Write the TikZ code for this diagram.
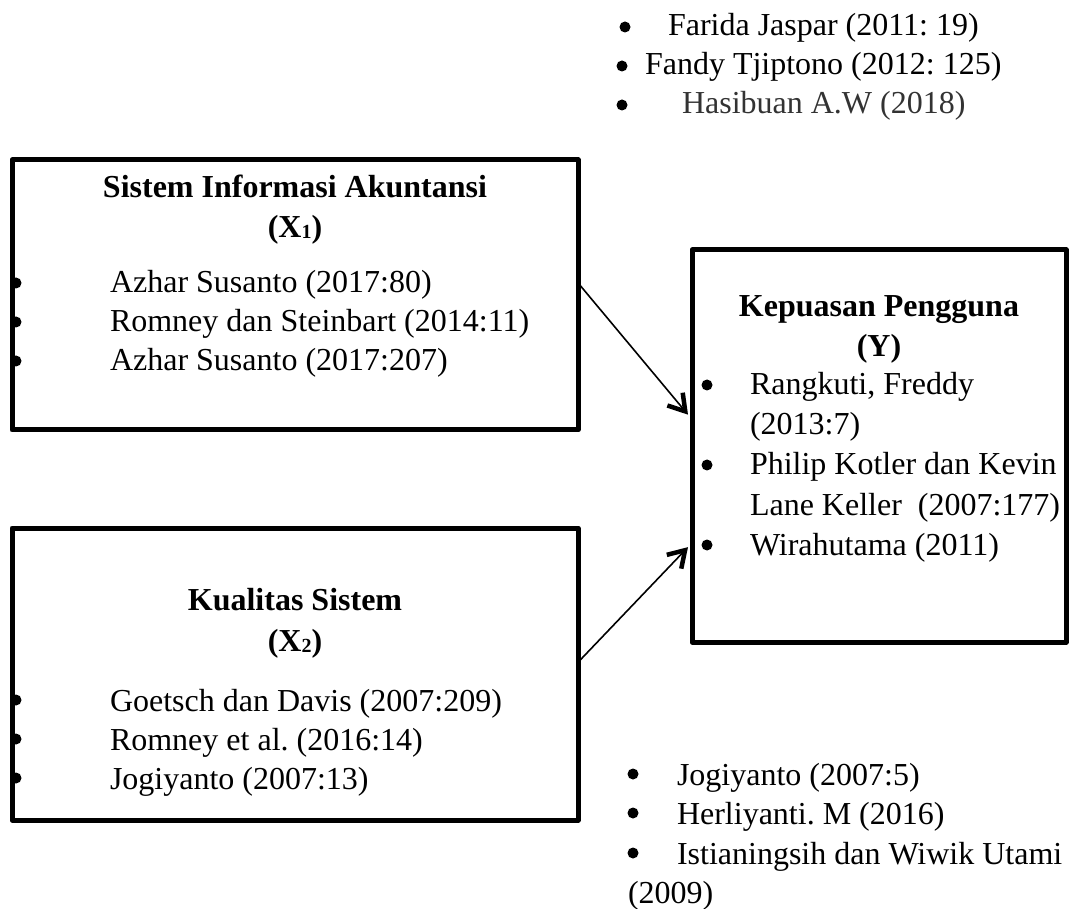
\documentclass[tikz,border=0pt]{standalone}
\usepackage{fontspec}
\setmainfont{Liberation Serif}
\usetikzlibrary{arrows.meta,calc}
\frenchspacing
\begin{document}
\begin{tikzpicture}[x=1pt,y=-1pt,
  every node/.style={inner sep=0pt,outer sep=0pt},
  box/.style={draw,line width=5pt,line join=round},
  txt/.style={anchor=base west,font=\fontsize{32}{38}\selectfont},
  ttl/.style={anchor=base,font=\fontsize{32}{38}\selectfont\bfseries},
  dot/.style={circle,fill,minimum size=11pt},
  arr/.style={line width=1.6pt,-{Straight Barb[length=16pt,width=20pt,line width=4.5pt]}}]
\useasboundingbox (0,0) rectangle (1072,909);
\newcommand{\subdig}[1]{\raisebox{-1pt}{\fontsize{20}{20}\selectfont #1}}
% top list
\node[dot] (d1) at (625,27) {};
\node[txt] (t1) at (668,36) {Farida Jaspar (2011: 19)};
\node[dot] (d2) at (622,66) {};
\node[txt] (t2) at (645,75) {Fandy Tjiptono (2012: 125)};
\node[dot] (d3) at (622,105) {};
\node[txt,text=black!80] (t3) at (682,114) {Hasibuan A.W (2018)};
% X1 box
\node[box,minimum width=566pt,minimum height=270pt] (x1) at (295,295) {};
\node[ttl] (x1t) at (295,198) {Sistem Informasi Akuntansi};
\node[ttl] (x1v) at (295,238) {(X\subdig{1})};
\node[dot] (x1d1) at (16,283) {};
\node[txt] (x1a) at (110,293) {Azhar Susanto (2017:80)};
\node[dot] (x1d2) at (16,322) {};
\node[txt] (x1b) at (110,332) {Romney dan Steinbart (2014:11)};
\node[dot] (x1d3) at (16,361) {};
\node[txt] (x1c) at (110,371) {Azhar Susanto (2017:207)};
% X2 box
\node[box,minimum width=566pt,minimum height=292pt] (x2) at (295,674) {};
\node[ttl] (x2t) at (295,610) {Kualitas Sistem};
\node[ttl] (x2v) at (295,651) {(X\subdig{2})};
\node[dot] (x2d1) at (16,700) {};
\node[txt] (x2a) at (110,711) {Goetsch dan Davis (2007:209)};
\node[dot] (x2d2) at (16,739) {};
\node[txt] (x2b) at (110,750) {Romney et al. (2016:14)};
\node[dot] (x2d3) at (16,778) {};
\node[txt] (x2c) at (110,789) {Jogiyanto (2007:13)};
% Y box
\node[box,minimum width=374pt,minimum height=392pt] (y) at (879,446) {};
\node[ttl] (yt) at (879,317) {Kepuasan Pengguna};
\node[ttl] (yv) at (879,357) {(Y)};
\node[dot] (yd1) at (707,385) {};
\node[txt] (ya) at (750,395) {Rangkuti, Freddy};
\node[txt] (ya2) at (750,435) {(2013:7)};
\node[dot] (yd2) at (707,465) {};
\node[txt] (yb) at (750,475) {Philip Kotler dan Kevin};
\node[txt] (yb2) at (750,515) {Lane Keller\ \ (2007:177)};
\node[dot] (yd3) at (707,545) {};
\node[txt] (yc) at (750,555) {Wirahutama (2011)};
% bottom list
\node[dot] (b1) at (633,774) {};
\node[txt] (bt1) at (677,785) {Jogiyanto (2007:5)};
\node[dot] (b2) at (633,813) {};
\node[txt] (bt2) at (677,824) {Herliyanti. M (2016)};
\node[dot] (b3) at (633,853) {};
\node[txt] (bt3) at (677,864) {Istianingsih dan Wiwik Utami};
\node[txt] (bt4) at (628,903) {(2009)};
% arrows
\draw[arr] ($(x1.north east)!0.455!(x1.south east)$) -- ($(y.north west)!0.42!(y.south west)+(-4,0)$);
\draw[arr] ($(x2.north east)!0.46!(x2.south east)$) -- ($(y.north west)!0.758!(y.south west)+(-4,0)$);
\end{tikzpicture}
\end{document}
